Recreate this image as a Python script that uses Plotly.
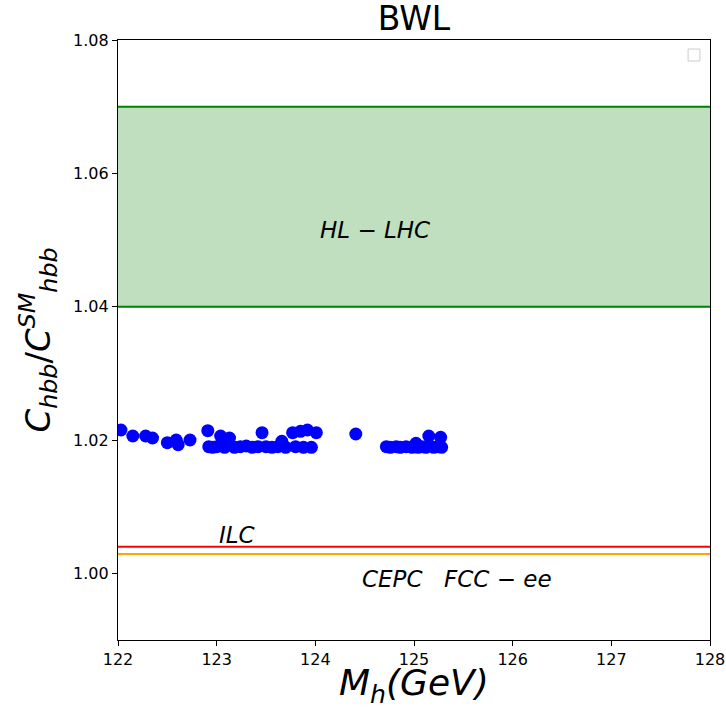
import plotly.graph_objects as go

# Scatter data (M_h in GeV, C_hbb / C_hbb^SM)
mh = [122.03, 122.15, 122.28, 122.35, 122.50, 122.59, 122.61, 122.73,
      122.91, 122.92, 122.96, 123.00, 123.04, 123.08, 123.13, 123.18, 123.24, 123.30,
      123.36, 123.42, 123.46, 123.50, 123.56, 123.62, 123.66, 123.70, 123.77, 123.80,
      123.85, 123.88, 123.92, 123.96, 124.01, 124.41,
      124.72, 124.76, 124.82, 124.86, 124.92, 124.98, 125.02, 125.04, 125.08, 125.12,
      125.15, 125.20, 125.24, 125.27, 125.28]
chbb = [1.0215, 1.0206, 1.0206, 1.0203, 1.0196, 1.0200, 1.0193, 1.0200,
        1.0214, 1.0190, 1.0189, 1.0190, 1.0206, 1.0189, 1.0203, 1.0189, 1.0190, 1.0191,
        1.0189, 1.0190, 1.0211, 1.0190, 1.0189, 1.0190, 1.0198, 1.0189, 1.0211, 1.0190,
        1.0213, 1.0189, 1.0215, 1.0189, 1.0211, 1.0209,
        1.0190, 1.0189, 1.0190, 1.0189, 1.0190, 1.0189, 1.0195, 1.0189, 1.0190, 1.0189,
        1.0206, 1.0189, 1.0190, 1.0204, 1.0189]

# Precision bands / lines
hl_lhc_band = [1.04, 1.07]
ilc_line = 1.004
cepc_fcc_line = 1.0029

x_range = [122, 128]
y_range = [0.99, 1.08]
x_ticks = [122, 123, 124, 125, 126, 127, 128]
y_ticks = [1.00, 1.02, 1.04, 1.06, 1.08]
y_ticklabels = ["1.00", "1.02", "1.04", "1.06", "1.08"]

fig = go.Figure()

# HL-LHC band
fig.add_trace(go.Scatter(x=x_range, y=[hl_lhc_band[1]] * 2, mode="lines",
                         line=dict(color="green", width=2), showlegend=False, hoverinfo="skip"))
fig.add_trace(go.Scatter(x=x_range, y=[hl_lhc_band[0]] * 2, mode="lines",
                         line=dict(color="green", width=2), fill="tonexty",
                         fillcolor="rgba(0,128,0,0.25)", showlegend=False, hoverinfo="skip"))
fig.add_trace(go.Scatter(x=x_range, y=[ilc_line] * 2, mode="lines",
                         line=dict(color="red", width=2), showlegend=False, hoverinfo="skip"))
fig.add_trace(go.Scatter(x=x_range, y=[cepc_fcc_line] * 2, mode="lines",
                         line=dict(color="orange", width=2), showlegend=False, hoverinfo="skip"))

fig.add_trace(go.Scatter(x=mh, y=chbb, mode="markers",
                         marker=dict(color="blue", size=13, line=dict(width=0)),
                         showlegend=False))

afont = dict(family="DejaVu Sans", size=23, color="black")
fig.add_annotation(x=124.6, y=1.0515, text="<i>HL</i> − <i>LHC</i>", showarrow=False, font=afont)
fig.add_annotation(x=123.0, y=1.0058, text="<i>ILC</i>", showarrow=False, font=afont, xanchor="left")
fig.add_annotation(x=124.45, y=0.9991, text="<i>CEPC</i>", showarrow=False, font=afont, xanchor="left")
fig.add_annotation(x=125.28, y=0.9991, text="<i>FCC</i> − <i>ee</i>", showarrow=False, font=afont, xanchor="left")

# x-axis title as a paper annotation (placed below the tick labels)
fig.add_annotation(xref="paper", yref="paper", x=0.5, y=-0.118, xanchor="center", yanchor="bottom",
                   text="<i>M</i><sub><i>h</i></sub><i>(GeV)</i>", showarrow=False,
                   font=dict(family="DejaVu Sans", size=36, color="black"))

# empty legend box (matplotlib empty legend)
fig.add_shape(type="rect", xref="paper", yref="paper", x0=0.963, x1=0.983, y0=0.965, y1=0.985,
              line=dict(color="#cccccc", width=1), fillcolor="white")

fig.update_layout(
    width=726, height=712,
    margin=dict(l=118, r=16, t=40, b=72, autoexpand=False),
    plot_bgcolor="white", paper_bgcolor="white",
    title=dict(text="BWL", x=0.5, xref="paper", xanchor="center", y=0.99, yanchor="top",
               font=dict(family="DejaVu Sans", size=33, color="black")),
    font=dict(family="DejaVu Sans", size=16, color="black"),
)
fig.update_xaxes(range=x_range, tickvals=x_ticks, ticks="outside", ticklen=5, tickcolor="black",
                 showline=True, linecolor="black", linewidth=1.2, mirror=True, showgrid=False,
                 zeroline=False, automargin=True, tickfont=dict(size=16))
fig.update_yaxes(range=y_range, tickvals=y_ticks, ticktext=y_ticklabels, ticks="outside", ticklen=5,
                 tickcolor="black", showline=True, linecolor="black", linewidth=1.2, mirror=True,
                 showgrid=False, zeroline=False, automargin=True, tickfont=dict(size=16),
                 title=dict(text="<i>C</i><sub><i>hbb</i></sub>/<i>C</i><sup><i>SM</i></sup><sub><i>hbb</i></sub>",
                            font=dict(family="DejaVu Sans", size=34), standoff=12))

fig.write_html("out.html")
